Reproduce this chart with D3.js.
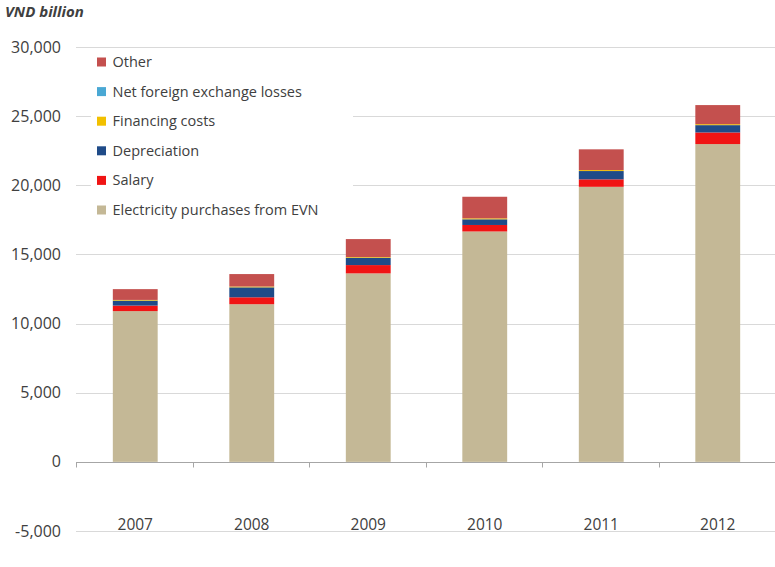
<!DOCTYPE html>
<html>
<head>
<meta charset="utf-8">
<script src="https://cdn.jsdelivr.net/npm/d3@7"></script>
<style>
  html, body { margin: 0; padding: 0; background: #ffffff; }
  svg { display: block; }
  text { font-family: "Open Sans", "Liberation Sans", sans-serif; fill: #404040; }
</style>
</head>
<body>
<svg id="chart" width="775" height="567"></svg>
<script>
// Cost breakdown, VND billion
const years = ["2007", "2008", "2009", "2010", "2011", "2012"];
const electricity = [10900, 11400, 13630, 16660, 19890, 22980];
const salary      = [400, 500, 600, 470, 540, 840];
const depreciation= [360, 720, 530, 410, 600, 530];
const financing   = [50, 60, 50, 70, 70, 70];
const netFx       = [0, 0, 0, 0, 0, 0];
const other       = [780, 900, 1300, 1560, 1500, 1380];
const yTicks = [-5000, 0, 5000, 10000, 15000, 20000, 25000, 30000];

const seriesNames = ["Electricity purchases from EVN", "Salary", "Depreciation",
                     "Financing costs", "Net foreign exchange losses", "Other"];
const seriesValues = [electricity, salary, depreciation, financing, netFx, other];
const colors = ["#c4b896", "#f01414", "#1f4b88", "#f2c000", "#4aa8d4", "#c4504e"];

const rows = years.map((yr, i) => {
  const r = { year: yr };
  seriesNames.forEach((n, k) => r[n] = seriesValues[k][i]);
  return r;
});

const svg = d3.select("#chart");
const plotLeft = 77, plotRight = 776, plotTop = 47, plotBottom = 531;
const innerPad = 0.615;

const x = d3.scaleBand().domain(years).range([plotLeft, plotRight])
  .paddingInner(innerPad).paddingOuter(innerPad / 2);
const y = d3.scaleLinear().domain([-5000, 30000]).range([plotBottom, plotTop]);

// thousands separator with a plain hyphen for negatives
const fmt = d3.formatLocale({ decimal: ".", thousands: ",", grouping: [3], currency: ["", ""], minus: "-" }).format(",");

// horizontal gridlines
svg.append("g").selectAll("line").data(yTicks.filter(t => t !== 0)).join("line")
  .attr("x1", plotLeft - 1).attr("x2", 775)
  .attr("y1", d => Math.round(y(d)) + 0.5).attr("y2", d => Math.round(y(d)) + 0.5)
  .attr("stroke", "#d9d9d9").attr("stroke-width", 1);

// y tick labels
svg.append("g").selectAll("text").data(yTicks).join("text")
  .attr("x", 61).attr("y", d => y(d)).attr("dy", "0.35em")
  .attr("text-anchor", "end").attr("font-size", 16)
  .text(d => fmt(d));

// stacked bars
const stack = d3.stack().keys(seriesNames).offset(d3.stackOffsetDiverging)(rows);
svg.append("g").selectAll("g").data(stack).join("g")
  .attr("fill", (d, i) => colors[i])
  .selectAll("rect").data(d => d).join("rect")
  .attr("x", d => x(d.data.year))
  .attr("width", x.bandwidth())
  .attr("y", d => y(Math.max(d[0], d[1])))
  .attr("height", d => Math.abs(y(d[0]) - y(d[1])));

// zero axis with category boundary ticks
const zeroY = Math.round(y(0)) + 0.5;
svg.append("line").attr("x1", plotLeft - 1).attr("x2", 775)
  .attr("y1", zeroY).attr("y2", zeroY)
  .attr("stroke", "#a6a6a6").attr("stroke-width", 1);
const half = innerPad * x.step() / 2;
const boundaries = years.map(yr => x(yr) - half).concat([x(years[years.length - 1]) + x.bandwidth() + half]);
svg.append("g").selectAll("line").data(boundaries).join("line")
  .attr("x1", d => Math.round(d) - 0.5).attr("x2", d => Math.round(d) - 0.5)
  .attr("y1", zeroY).attr("y2", zeroY + 5)
  .attr("stroke", "#a6a6a6");

// category labels
svg.append("g").selectAll("text").data(years).join("text")
  .attr("x", d => x(d) + x.bandwidth() / 2).attr("y", 525)
  .attr("dy", "0.35em").attr("text-anchor", "middle").attr("font-size", 15.5)
  .text(d => d);

// unit label
svg.append("text").attr("x", 5).attr("y", 17)
  .attr("font-size", 15).attr("font-weight", "bold").attr("font-style", "italic")
  .text("VND billion");

// legend (top series first)
const legend = svg.append("g");
legend.append("rect").attr("x", 91).attr("y", 50).attr("width", 262).attr("height", 172).attr("fill", "#ffffff");
const legendItems = seriesNames.map((n, i) => ({ name: n, color: colors[i] })).reverse();
const li = legend.selectAll("g.item").data(legendItems).join("g").attr("class", "item")
  .attr("transform", (d, i) => `translate(97, ${62 + i * 29.6})`);
li.append("rect").attr("x", 0).attr("y", -4.5).attr("width", 9).attr("height", 9).attr("fill", d => d.color);
li.append("text").attr("x", 15.5).attr("y", 0).attr("dy", "0.35em").attr("font-size", 14.5).text(d => d.name);
</script>
</body>
</html>
